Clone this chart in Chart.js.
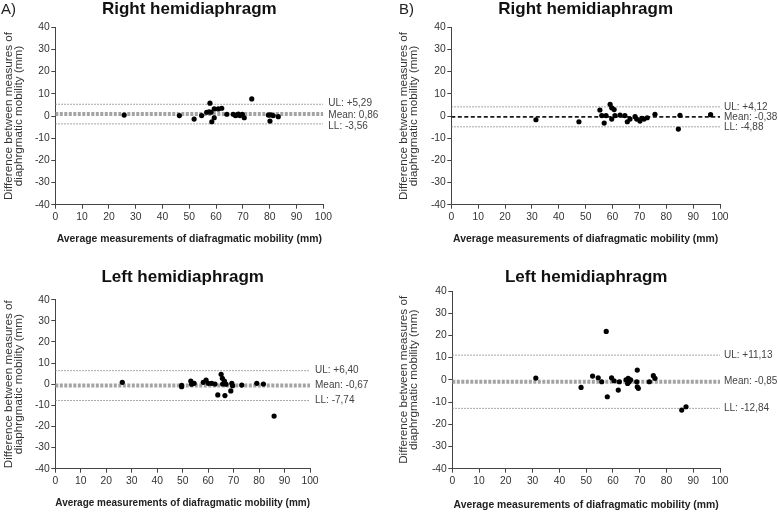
<!DOCTYPE html>
<html><head><meta charset="utf-8">
<script src="https://cdn.jsdelivr.net/npm/chart.js@4.4.0/dist/chart.umd.min.js"></script>
<style>
html,body{margin:0;padding:0;background:#fff;width:778px;height:512px;overflow:hidden;}
.panel{position:absolute;width:389px;height:256px;}
.tag{position:absolute;font:15px "Liberation Sans",Arial,sans-serif;color:#222;line-height:18px;}
</style></head><body>
<div class="panel" style="left:0;top:0"><canvas id="cA" width="389" height="256"></canvas></div>
<div class="panel" style="left:389px;top:0"><canvas id="cB" width="389" height="256"></canvas></div>
<div class="panel" style="left:0;top:256px"><canvas id="cC" width="389" height="256"></canvas></div>
<div class="panel" style="left:389px;top:256px"><canvas id="cD" width="389" height="256"></canvas></div>
<div class="tag" style="left:1px;top:0px">A)</div>
<div class="tag" style="left:399px;top:0px">B)</div>
<script>
// ---- Tick labels ----
const xTicks = [0, 10, 20, 30, 40, 50, 60, 70, 80, 90, 100];
const yTicks = [-40, -30, -20, -10, 0, 10, 20, 30, 40];

// ---- Titles ----
const titleRight = 'Right hemidiaphragm';
const titleLeft = 'Left hemidiaphragm';
const xTitle = 'Average measurements of diafragmatic mobility (mm)';
const yTitle = ['Difference between measures of', 'diaphrgmatic mobility (mm)'];

// ---- Panel A: Right hemidiaphragm ----
const xA = [25.7, 46.3, 51.8, 54.6, 56.5, 57.4, 57.7, 58.1, 58.4, 59.3, 59.3, 60.8, 62.1, 64.0, 66.4, 67.2, 67.7, 68.3, 68.9, 69.8, 70.5, 73.3, 79.5, 80.1, 80.3, 81.3, 83.2];
const yA = [0.4, 0.2, -1.4, 0.2, 1.7, 1.9, 5.8, 1.7, -2.6, 3.2, -0.8, 3.2, 3.5, 0.8, 0.8, 0.2, 0.4, 0.9, 0.2, 0.8, -0.8, 7.7, 0.4, -2.3, 0.5, 0.2, -0.3];
const limA = [5.29, 0.86, -3.56];
const labA = ['UL: +5,29', 'Mean: 0,86', 'LL: -3,56'];

// ---- Panel B: Right hemidiaphragm ----
const xB = [31.5, 47.5, 55.3, 56.0, 56.9, 57.6, 59.1, 59.7, 59.7, 60.6, 60.9, 62.8, 64.6, 65.5, 66.5, 68.4, 69.0, 70.2, 70.9, 71.7, 72.9, 75.8, 84.5, 85.1, 96.5];
const yB = [-1.7, -2.6, 2.7, 0.2, -3.2, 0.2, 5.3, 3.7, -1.4, 2.9, 0.2, 0.4, 0.2, -2.6, -1.4, -0.3, -1.4, -2.3, -1.1, -1.4, -0.8, 0.8, -5.9, 0.3, 0.6];
const limB = [4.12, -0.38, -4.88];
const labB = ['UL: +4,12', 'Mean: -0,38', 'LL: -4,88'];

// ---- Panel C: Left hemidiaphragm ----
const xC = [26.3, 49.6, 49.6, 53.2, 53.5, 54.5, 58.1, 59.2, 60.1, 61.4, 62.7, 63.8, 65.1, 65.6, 65.7, 66.4, 66.6, 67.0, 68.9, 69.3, 69.6, 73.2, 79.1, 81.7, 85.9];
const yC = [0.9, -1.2, -0.5, 1.5, 0.0, 0.4, 0.9, 2.0, 0.4, 0.4, 0.1, -5.1, 4.7, 2.8, 0.1, 1.5, -5.4, 0.0, -3.2, 0.4, -0.7, -0.4, 0.4, 0.1, -15.1];
const limC = [6.40, -0.67, -7.74];
const labC = ['UL: +6,40', 'Mean: -0,67', 'LL: -7,74'];

// ---- Panel D: Left hemidiaphragm ----
const xD = [31.2, 48.1, 52.4, 54.5, 55.8, 57.9, 57.5, 59.5, 60.4, 62.0, 62.4, 64.9, 65.7, 66.1, 65.5, 66.6, 69.1, 68.9, 69.1, 69.5, 73.6, 75.1, 75.7, 85.7, 87.3];
const yD = [0.8, -3.4, 1.7, 0.95, -0.85, -7.6, 21.8, 0.95, -0.4, -4.6, -0.85, 0.0, 0.7, -0.85, -1.6, 0.0, 4.4, -0.85, -3.1, -3.8, -0.85, 1.9, 0.7, -13.6, -12.1];
const limD = [11.13, -0.85, -12.84];
const labD = ['UL: +11,13', 'Mean: -0,85', 'LL: -12,84'];

const FAMILY = "'Liberation Sans', Arial, Helvetica, sans-serif";

const limitLabelPlugin = {
  id: 'limitLabels',
  afterDatasetsDraw(chart, args, opts) {
    const {ctx, chartArea, scales} = chart;
    ctx.save();
    ctx.font = opts.font;
    ctx.fillStyle = opts.color;
    ctx.textAlign = 'left';
    ctx.textBaseline = 'middle';
    opts.texts.forEach((t, i) => {
      const y = scales.y.getPixelForValue(opts.values[i]) + (opts.shift ? opts.shift[i] : 0);
      ctx.fillText(t, chartArea.right + opts.gap, y);
    });
    ctx.restore();
  }
};

function makeChart(id, xs, ys, lims, labs, title, L) {
  const xMin = xTicks[0], xMax = xTicks[xTicks.length - 1];
  const seg = v => [{x: xMin, y: v}, {x: xMax, y: v}];
  const limitStyle = {showLine: true, pointRadius: 0, borderColor: '#8a8a8a', borderWidth: 1, borderDash: [1.5, 1.5], fill: false};
  const meanStyle = L.blackMean
    ? {showLine: true, pointRadius: 0, borderColor: '#1a1a1a', borderWidth: 1.8, borderDash: [4, 2.5], fill: false}
    : {showLine: true, pointRadius: 0, borderColor: '#a3a3a3', borderWidth: 4, borderDash: [3, 1.5], fill: false};
  new Chart(document.getElementById(id), {
    type: 'scatter',
    data: {
      datasets: [
        {data: xs.map((x, i) => ({x: x, y: ys[i]})), pointRadius: 2.6, pointBackgroundColor: '#000', pointBorderWidth: 0, showLine: false},
        Object.assign({data: seg(lims[0])}, limitStyle),
        Object.assign({data: seg(lims[1])}, meanStyle),
        Object.assign({data: seg(lims[2])}, limitStyle)
      ]
    },
    options: {
      responsive: false,
      animation: false,
      devicePixelRatio: 1,
      events: [],
      layout: {padding: {left: 0, top: 0, right: L.padR, bottom: 0}},
      plugins: {
        legend: {display: false},
        tooltip: {enabled: false},
        title: {display: true, text: title, fullSize: false, color: '#111',
          font: {family: FAMILY, size: 17, weight: 'bold', lineHeight: 1},
          padding: {top: L.tTop, bottom: L.tBot}},
        limitLabels: {texts: labs, values: lims, gap: L.gap, color: '#444', font: '10px ' + FAMILY, shift: L.shift}
      },
      scales: {
        x: {
          type: 'linear', min: xMin, max: xMax,
          afterBuildTicks: s => { s.ticks = xTicks.map(v => ({value: v})); },
          ticks: {color: '#333', font: {family: FAMILY, size: 10.3}, padding: 2, maxRotation: 0, autoSkip: false},
          grid: {display: true, drawOnChartArea: false, drawTicks: true, tickLength: 4, color: '#444', lineWidth: 1},
          border: {display: true, color: '#444', width: 1},
          title: {display: true, text: xTitle, color: '#222', font: {family: FAMILY, size: 10.4, weight: 'bold', lineHeight: 1.2}, padding: {top: 0, bottom: L.xtPad}},
          afterFit: s => { s.height = L.xH; }
        },
        y: {
          type: 'linear', min: yTicks[0], max: yTicks[yTicks.length - 1],
          afterBuildTicks: s => { s.ticks = yTicks.map(v => ({value: v})); },
          ticks: {color: '#333', font: {family: FAMILY, size: 10.3}, padding: 1.5, autoSkip: false},
          grid: {display: true, drawOnChartArea: false, drawTicks: true, tickLength: 4, color: '#444', lineWidth: 1},
          border: {display: true, color: '#444', width: 1},
          title: {display: true, text: yTitle, color: '#333', font: {family: FAMILY, size: 11.7, lineHeight: '10px'}, padding: {top: L.ytPad, bottom: 0}},
          afterFit: s => { s.width = L.left; }
        }
      }
    },
    plugins: [limitLabelPlugin]
  });
}

makeChart('cA', xA, yA, limA, labA, titleRight, {left: 55.3, padR: 65.7, tTop: 0.5, tBot: 9.8, xH: 51.3, xtPad: 11, ytPad: 3.3, gap: 5, blackMean: false, shift: [-1, 1.5, 2.5]});
makeChart('cB', xB, yB, limB, labB, titleRight, {left: 62.3, padR: 58, tTop: 0.5, tBot: 9.8, xH: 51.3, xtPad: 11, ytPad: 10, gap: 4, blackMean: true});
makeChart('cC', xC, yC, limC, labC, titleLeft, {left: 55.3, padR: 79, tTop: 13.2, tBot: 13.5, xH: 43.3, xtPad: 2.7, ytPad: 3.3, gap: 5, blackMean: false});
makeChart('cD', xD, yD, limD, labD, titleLeft, {left: 63.3, padR: 58, tTop: 13.2, tBot: 4.8, xH: 43.3, xtPad: 1, ytPad: 10, gap: 4, blackMean: false});
</script>
</body></html>
